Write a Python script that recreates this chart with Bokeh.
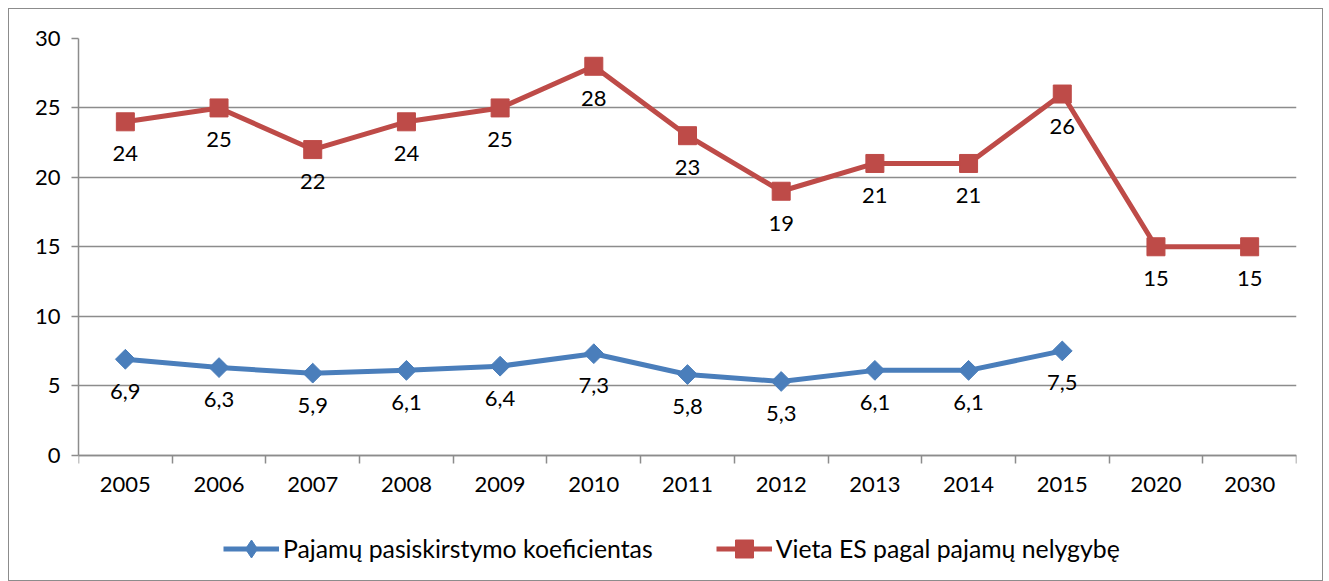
import numpy as np
from bokeh.plotting import figure
from bokeh.models import (ColumnDataSource, FixedTicker, LabelSet, Legend, LegendItem, Range1d)
from bokeh.core.properties import value
from bokeh.embed import file_html
from bokeh.resources import INLINE

years = ["2005", "2006", "2007", "2008", "2009", "2010", "2011", "2012", "2013", "2014", "2015", "2020", "2030"]
coef = [6.9, 6.3, 5.9, 6.1, 6.4, 7.3, 5.8, 5.3, 6.1, 6.1, 7.5]
vieta = [24, 25, 22, 24, 25, 28, 23, 19, 21, 21, 26, 15, 15]
y_ticks = [0, 5, 10, 15, 20, 25, 30]

FONT = "Lato"
BLUE = "#4a7ebb"
RED = "#be4b48"
GRID = "#8c8c8c"

pos = np.arange(len(years)) + 0.5

def fmt(v):
    return ("%g" % v).replace(".", ",")

src_b = ColumnDataSource(dict(x=pos[:len(coef)], y=coef, t=[fmt(v) for v in coef]))
src_r = ColumnDataSource(dict(x=pos, y=vieta, t=[fmt(v) for v in vieta]))

# layout geometry (pixels): frame top 38, zero line 453, frame bottom 570
Y_TOP_PX, Y_ZERO_PX, Y_BOT_PX = 38, 453, 570
y_lo = -30 * (Y_BOT_PX - Y_ZERO_PX) / (Y_ZERO_PX - Y_TOP_PX)

p = figure(width=1315, height=573, output_backend="svg", toolbar_location=None,
           x_range=Range1d(0, len(years)), y_range=Range1d(y_lo, 30),
           min_border_left=69, min_border_top=29, min_border_right=28, min_border_bottom=10)
p.styles = {"border": "1px solid #8c8c8c", "box-sizing": "border-box",
            "margin-left": "8px", "margin-top": "8px"}
p.outline_line_color = None
p.background_fill_color = "white"
p.border_fill_color = "white"

# axes
p.xaxis.fixed_location = 0
p.xaxis.ticker = FixedTicker(ticks=list(pos), minor_ticks=list(range(len(years) + 1)))
p.xaxis.major_label_overrides = {float(x): y for x, y in zip(pos, years)}
p.xaxis.minor_tick_line_color = GRID
p.xaxis.minor_tick_out = 8
p.xaxis.minor_tick_in = 0
p.xaxis.major_label_standoff = 14
p.yaxis.ticker = FixedTicker(ticks=y_ticks)
p.yaxis.bounds = (0, 30)
p.yaxis.major_tick_out = 7
p.yaxis.major_tick_in = 0
p.yaxis.minor_tick_line_color = None
p.yaxis.major_label_standoff = 11
for ax in (p.xaxis, p.yaxis):
    ax.axis_line_color = GRID
    ax.axis_line_width = 1.5
    ax.major_label_text_font = FONT
    ax.major_label_text_font_size = "22px"
    ax.major_label_text_color = "black"
p.xaxis.major_tick_line_color = None
p.yaxis.major_tick_line_color = GRID
p.yaxis.major_tick_line_width = 1.5
p.xaxis.minor_tick_line_width = 1.5
p.xgrid.grid_line_color = None
p.ygrid.ticker = FixedTicker(ticks=y_ticks)
p.ygrid.grid_line_color = GRID
p.ygrid.grid_line_width = 1.5

lb = p.line("x", "y", source=src_b, line_color=BLUE, line_width=5)
# small diamond (hidden under the rotated squares) gives the legend its diamond swatch
mb_leg = p.scatter("x", "y", source=src_b, marker="diamond", size=12,
                   fill_color=BLUE, line_color=BLUE)
mb = p.scatter("x", "y", source=src_b, marker="square", angle=np.pi / 4, size=14,
               fill_color=BLUE, line_color=BLUE)
lr = p.line("x", "y", source=src_r, line_color=RED, line_width=5)
mr = p.scatter("x", "y", source=src_r, marker="square", size=18, fill_color=RED, line_color=RED)

for s in (src_b, src_r):
    p.add_layout(LabelSet(x="x", y="y", text="t", source=s, text_align="center",
                          text_baseline="middle", y_offset=-32, text_font=value(FONT),
                          text_font_size="22px", text_color="black"))

legend = Legend(items=[LegendItem(label="Pajamų pasiskirstymo koeficientas", renderers=[lb, mb_leg]),
                       LegendItem(label="Vieta ES pagal pajamų nelygybę", renderers=[lr, mr])],
                orientation="horizontal", location=(145, 1))
legend.glyph_width = 56
legend.glyph_height = 45
legend.label_standoff = 4
legend.spacing = 63
legend.padding = 0
legend.margin = 0
legend.border_line_color = None
legend.background_fill_alpha = 0
legend.label_text_font = FONT
legend.label_text_font_size = "24.8px"
legend.label_text_color = "black"
p.add_layout(legend)

open("out.html", "w").write(file_html(p, INLINE))
